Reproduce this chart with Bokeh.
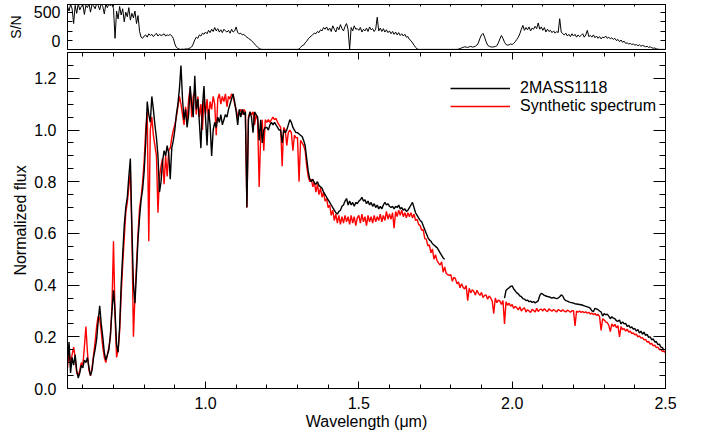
import numpy as np
from bokeh.plotting import figure
from bokeh.layouts import column
from bokeh.models import (LinearAxis, FixedTicker, Legend, LegendItem, Range1d,
                          PrintfTickFormatter, CustomJSTickFormatter)
from bokeh.embed import file_html
from bokeh.resources import INLINE

nan = float("nan")

# Wavelength grid (micron): start and sampling step of the tabulated spectra
WL_START = 0.55
WL_STEP = 0.005

# Observed spectrum 2MASS1118 (normalized flux), sampled every 0.005 micron from 0.55
flux_obs = (
    [0.10, 0.18, 0.06, 0.12, 0.09, 0.13, 0.07, 0.04, 0.06, 0.09]
    + [0.08, 0.11, 0.10, 0.12, 0.08, 0.05, 0.07, 0.12, 0.15, 0.19, 0.26, 0.32, 0.25, 0.20, 0.14, 0.11, 0.13, 0.15, 0.21, 0.30]
    + [0.38, 0.30, 0.17, 0.14, 0.24, 0.40, 0.52, 0.63, 0.70, 0.74, 0.82, 0.89, 0.62, 0.40, 0.33, 0.45, 0.58, 0.66, 0.73, 0.77]
    + [0.84, 0.95, 1.11, 1.06, 1.03, 1.13, 1.08, 1.02, 0.97, 0.90, 0.76, 0.80, 0.88, 0.92, 0.90, 0.94, 0.91, 0.81, 0.93, 0.96]
    + [1.00, 1.06, 1.10, 1.16, 1.25, 1.12, 1.04, 1.08, 1.01, 1.06, 1.17, 1.10, 1.05, 1.21, 1.08, 1.12, 1.03, 0.93, 1.09, 1.17]
    + [1.05, 0.94, 1.08, 1.02, 0.90, 1.00, 1.03, 1.01, 1.05, 1.03, 1.06, 1.02, 1.04, 1.06, 1.05, 1.08, 1.10, 1.12, 1.14, 1.11]
    + [1.07, 1.02, 1.08, 1.05, 1.08, 1.06, 1.07, 0.70, 1.04, 1.07, 1.05, 0.99, 1.07, 1.06, 1.05, 0.96, 1.04, 0.95, 1.00, 1.01]
    + [1.01, 1.00, 1.02, 1.03, 1.02, 1.03, 1.02, 1.01, 1.00, 1.00, 0.95, 1.00, 0.99, 1.00, 1.02, 1.04, 1.03, 1.01, 1.00, 0.99]
    + [0.99, 0.985, 0.98, 0.975, 0.96, 0.94, 0.89, 0.84, 0.81, 0.80, 0.81, 0.795, 0.79, 0.80, 0.785, 0.78, 0.775, 0.76, 0.75, 0.74]
    + [0.73, 0.72, 0.71, 0.70, 0.69, 0.68, 0.675, 0.685, 0.69, 0.705, 0.71, 0.725, 0.735, 0.71, 0.725, 0.71, 0.72, 0.705, 0.72, 0.715]
    + [0.725, 0.73, 0.74, 0.725, 0.73, 0.715, 0.725, 0.71, 0.72, 0.705, 0.715, 0.70, 0.71, 0.695, 0.705, 0.695, 0.71, 0.72, 0.71, 0.715]
    + [0.705, 0.70, 0.705, 0.695, 0.705, 0.70, 0.71, 0.695, 0.70, 0.69, 0.695, 0.685, 0.69, 0.70, 0.71, 0.72, 0.70, 0.68, 0.67, 0.66]
    + [0.65, 0.645, 0.63, 0.615, 0.60, 0.585, 0.575, 0.57, 0.56, 0.555, 0.55, 0.545, 0.535, 0.525, 0.515, 0.505, 0.50, nan, nan, nan]
    + [nan, nan, nan, nan, nan, nan, nan, nan, nan, nan, nan, nan, nan, nan, nan, nan, nan, nan, nan, nan]
    + [nan, nan, nan, nan, nan, nan, nan, nan, nan, nan, nan, nan, nan, nan, nan, 0.35, 0.38, 0.385, 0.39, 0.395]
    + [0.397, 0.385, 0.378, 0.37, 0.366, 0.358, 0.355, 0.348, 0.346, 0.34, 0.342, 0.336, 0.338, 0.333, 0.336, 0.331, 0.335, 0.34, 0.36, 0.368]
    + [0.365, 0.36, 0.358, 0.356, 0.355, 0.352, 0.35, 0.353, 0.35, 0.348, 0.35, 0.355, 0.362, 0.358, 0.345, 0.34, 0.338, 0.335, 0.333, 0.332]
    + [0.33, 0.328, 0.327, 0.326, 0.325, 0.324, 0.322, 0.32, 0.318, 0.316, 0.314, 0.31, 0.30, 0.298, 0.31, 0.308, 0.305, 0.30, 0.296, 0.28]
    + [0.29, 0.285, 0.288, 0.28, 0.27, 0.278, 0.272, 0.27, 0.262, 0.26, 0.265, 0.25, 0.258, 0.25, 0.252, 0.24, 0.245, 0.235, 0.238, 0.23]
    + [0.232, 0.222, 0.228, 0.215, 0.222, 0.21, 0.218, 0.205, 0.21, 0.198, 0.20, 0.188, 0.192, 0.18, 0.182, 0.17, 0.172, 0.16, 0.158, 0.148]
    + [nan]
)

# Synthetic spectrum (normalized flux), same sampling
flux_syn = (
    [0.08, 0.14, 0.10, 0.13, 0.16, 0.12, 0.06, 0.05, 0.07, 0.10]
    + [0.09, 0.16, 0.24, 0.14, 0.07, 0.05, 0.08, 0.13, 0.18, 0.24, 0.28, 0.27, 0.22, 0.16, 0.12, 0.10, 0.13, 0.16, 0.20, 0.32]
    + [0.57, 0.28, 0.12, 0.15, 0.22, 0.36, 0.48, 0.58, 0.68, 0.72, 0.78, 0.84, 0.60, 0.20, 0.36, 0.48, 0.60, 0.70, 0.74, 0.80]
    + [0.88, 1.00, 1.07, 0.57, 1.00, 1.05, 0.98, 0.94, 0.90, 0.68, 0.82, 0.86, 0.89, 0.79, 0.90, 0.82, 0.92, 0.93, 0.97, 1.00]
    + [1.02, 1.05, 1.09, 1.13, 1.10, 1.06, 1.02, 1.09, 1.03, 1.12, 1.16, 1.05, 1.13, 1.15, 1.06, 1.13, 1.05, 1.10, 1.00, 1.12]
    + [1.06, 1.12, 1.04, 1.11, 1.08, 1.13, 1.10, 0.98, 1.12, 1.14, 1.10, 1.13, 1.11, 1.14, 1.09, 1.13, 1.12, 1.14, 1.13, 1.10]
    + [1.08, 1.05, 1.07, 1.08, 1.06, 1.08, 1.07, 0.70, 1.05, 1.07, 1.06, 1.07, 1.02, 1.06, 1.04, 0.78, 0.98, 1.04, 0.92, 1.04]
    + [1.03, 1.04, 1.03, 1.04, 1.05, 1.04, 1.045, 1.03, 1.02, 1.01, 0.86, 1.01, 1.00, 0.94, 0.99, 1.00, 0.99, 0.92, 0.98, 0.97]
    + [0.97, 0.80, 0.96, 0.95, 0.94, 0.92, 0.86, 0.82, 0.80, 0.81, 0.78, 0.80, 0.76, 0.79, 0.75, 0.775, 0.74, 0.76, 0.725, 0.735]
    + [0.70, 0.71, 0.67, 0.69, 0.65, 0.675, 0.64, 0.67, 0.635, 0.665, 0.64, 0.67, 0.645, 0.665, 0.635, 0.67, 0.64, 0.665, 0.63, 0.66]
    + [0.67, 0.64, 0.675, 0.645, 0.665, 0.63, 0.67, 0.645, 0.665, 0.64, 0.67, 0.645, 0.665, 0.65, 0.675, 0.645, 0.67, 0.65, 0.685, 0.655]
    + [0.675, 0.655, 0.68, 0.62, 0.685, 0.665, 0.69, 0.67, 0.69, 0.665, 0.68, 0.66, 0.68, 0.665, 0.68, 0.66, 0.675, 0.65, 0.655, 0.635]
    + [0.63, 0.612, 0.615, 0.58, 0.578, 0.552, 0.556, 0.525, 0.54, 0.50, 0.518, 0.495, 0.485, 0.478, 0.49, 0.45, 0.47, 0.445, 0.44, 0.438]
    + [0.44, 0.415, 0.43, 0.425, 0.405, 0.412, 0.39, 0.405, 0.392, 0.385, 0.398, 0.34, 0.388, 0.37, 0.382, 0.375, 0.362, 0.38, 0.368, 0.36]
    + [0.372, 0.352, 0.36, 0.362, 0.345, 0.358, 0.35, 0.338, 0.29, 0.35, 0.332, 0.342, 0.338, 0.325, 0.34, 0.25, 0.335, 0.322, 0.33, 0.318]
    + [0.325, 0.31, 0.318, 0.312, 0.304, 0.316, 0.30, 0.308, 0.312, 0.296, 0.305, 0.30, 0.294, 0.306, 0.302, 0.296, 0.31, 0.298, 0.305, 0.307]
    + [0.30, 0.309, 0.302, 0.297, 0.308, 0.303, 0.299, 0.306, 0.301, 0.296, 0.305, 0.302, 0.298, 0.305, 0.299, 0.296, 0.303, 0.30, 0.295, 0.301]
    + [0.301, 0.242, 0.30, 0.295, 0.30, 0.294, 0.298, 0.293, 0.297, 0.291, 0.295, 0.288, 0.292, 0.286, 0.29, 0.283, 0.287, 0.278, 0.225, 0.27]
    + [0.265, 0.258, 0.255, 0.245, 0.22, 0.25, 0.24, 0.248, 0.235, 0.243, 0.20, 0.24, 0.228, 0.232, 0.222, 0.23, 0.218, 0.222, 0.212, 0.215]
    + [0.208, 0.21, 0.20, 0.204, 0.195, 0.197, 0.188, 0.19, 0.18, 0.182, 0.172, 0.175, 0.165, 0.168, 0.158, 0.16, 0.15, 0.152, 0.143, 0.145]
    + [0.138]
)

# Signal-to-noise of the observed spectrum, same sampling
snr = (
    [600, 520, 640, 560, 300, 620, 480, 650, 540, 600]
    + [640, 460, 620, 580, 650, 500, 640, 610, 560, 650, 620, 540, 650, 600, 470, 640, 580, 650, 610, 640]
    + [560, 40, 520, 380, 600, 450, 560, 330, 500, 420, 580, 360, 480, 400, 520, 300, 440, 160, 60, 40]
    + [80, 100, 60, 120, 90, 110, 70, 100, 130, 80, 110, 90, 100, 120, 80, 100, 90, 110, 80, 40]
    + [-60, -120, -140, -150, -155, -150, -155, -145, -150, -140, -130, -110, -60, 10, 60, 40, 100, 80, 130, 110]
    + [150, 120, 180, 140, 200, 160, 230, 170, 210, 150, 190, 140, 200, 170, 150, 180, 130, 200, 150, 170]
    + [240, 140, 120, 130, 100, 110, 80, 60, 40, 20, 0, -30, -60, -90, -117, -140, -150, -155, -155, -155]
    + [-155, -155, -155, -155, -155, -155, -155, -155, -155, -155, -155, -155, -155, -155, -155, -155, -155, -155, -155, -155]
    + [-155, -150, -120, -90, -80, -40, -10, 30, 60, 80, 110, 130, 120, 160, 140, 190, 170, 230, 200, 240]
    + [180, 220, 160, 260, 200, 150, 240, 190, 280, 210, 170, 250, 300, 190, -150, 230, 170, 260, 200, 210]
    + [180, 230, 150, 200, 170, 220, 160, 240, 190, 210, 160, 200, 410, 170, 220, 160, 210, 150, 190, 140]
    + [170, 120, 160, 110, 150, 100, 140, 90, 120, 80, 110, 60, 70, 20, 0, -40, -80, -120, -145, -155]
    + [-155, -155, -155, -155, -155, -155, -155, -155, -155, -155, -155, -155, -155, -155, -155, -155, -155, -155, -155, -155]
    + [-155, -155, -155, -155, -155, -150, -140, -130, -120, -110, -115, -120, -110, -100, -115, -110, -100, -80, -40, 40]
    + [100, 127, 60, -20, -80, -100, -110, -115, -110, -105, -90, -40, 30, 90, 40, -30, -70, -80, -75, -60]
    + [-70, -50, -20, 20, 60, 120, 200, 267, 180, 230, 190, 240, 170, 220, 200, 250, 210, 310, 200, 240]
    + [180, 230, 150, 200, 160, 180, 140, 170, 130, 160, 140, 385, 150, 120, 100, 130, 80, 110, 70, 120]
    + [80, 110, 60, 100, 70, 90, 120, 60, 100, 180, 70, 90, 60, 100, 50, 80, 40, 70, 30, 60]
    + [50, 80, 40, 60, 30, 50, 20, 40, 0, 20, -20, 10, -30, -10, -50, -40, -60, -50, -70, -60]
    + [-80, -70, -90, -75, -100, -85, -95, -110, -100, -120, -110, -125, -135, -130, -145, -150, -155, -155, -155, -155]
    + [-155]
)

legend_labels = ["2MASS1118", "Synthetic spectrum"]
x_major_ticks = [1.0, 1.5, 2.0, 2.5]
x_minor_ticks = [0.6, 0.7, 0.8, 0.9, 1.1, 1.2, 1.3, 1.4, 1.6, 1.7, 1.8, 1.9, 2.1, 2.2, 2.3, 2.4]
y_major_ticks = [0.0, 0.2, 0.4, 0.6, 0.8, 1.0, 1.2]
y_minor_ticks = [0.05, 0.1, 0.15, 0.25, 0.3, 0.35, 0.45, 0.5, 0.55, 0.65, 0.7, 0.75,
                 0.85, 0.9, 0.95, 1.05, 1.1, 1.15, 1.25]
sn_major_ticks = [0, 500]
sn_minor_ticks = [166.67, 333.33]

n = len(flux_obs)
wl = np.round(WL_START + WL_STEP * np.arange(n), 4)
f_obs = np.array(flux_obs, dtype=float)
f_syn = np.array(flux_syn, dtype=float)
sn = np.array(snr, dtype=float)

FONT = "Liberation Sans"


def style_axis(ax, labels=True, tick_in=6, minor_in=3, size="16px"):
    ax.axis_line_color = "black"
    ax.major_tick_line_color = "black"
    ax.minor_tick_line_color = "black"
    ax.major_tick_out = 0
    ax.minor_tick_out = 0
    ax.major_tick_in = tick_in
    ax.minor_tick_in = minor_in
    ax.major_label_text_font = FONT
    ax.major_label_text_color = "black"
    ax.axis_label_text_font = FONT
    ax.axis_label_text_font_style = "normal"
    ax.axis_label_text_color = "black"
    if labels:
        ax.major_label_text_font_size = size
    else:
        # mirrored tick marks only: no label text at all
        ax.formatter = CustomJSTickFormatter(code="return ''")
        ax.major_label_text_font_size = "1px"
        ax.major_label_standoff = 0


# ---------------- top panel: S/N ----------------
top = figure(width=702, height=50, x_range=Range1d(0.55, 2.5), y_range=Range1d(-157, 635),
             output_backend="svg", toolbar_location=None,
             x_axis_location=None, y_axis_location="left",
             min_border_left=67, min_border_right=37, min_border_top=4, min_border_bottom=1)
top.grid.visible = False
top.outline_line_color = "black"
top.outline_line_alpha = 1.0
top.background_fill_color = "white"
top.border_fill_color = "white"

yl = top.yaxis[0]
yl.ticker = FixedTicker(ticks=sn_major_ticks, minor_ticks=sn_minor_ticks)
style_axis(yl, labels=True, tick_in=5, minor_in=5, size="16px")
yl.major_label_standoff = 7
yl.axis_label = "S/N"
yl.axis_label_text_font_size = "14px"
yl.axis_label_standoff = 7

yr = LinearAxis(ticker=FixedTicker(ticks=sn_major_ticks, minor_ticks=sn_minor_ticks))
style_axis(yr, labels=False, tick_in=5, minor_in=5)
top.add_layout(yr, "right")

xt = LinearAxis(ticker=FixedTicker(ticks=x_major_ticks, minor_ticks=x_minor_ticks))
style_axis(xt, labels=False, tick_in=3, minor_in=2)
top.add_layout(xt, "above")

top.line(wl, sn, line_color="black", line_width=1.0)

# ---------------- bottom panel: spectra ----------------
bot = figure(width=702, height=382, x_range=Range1d(0.55, 2.5), y_range=Range1d(0.0, 1.3),
             output_backend="svg", toolbar_location=None,
             min_border_left=67, min_border_right=37, min_border_top=2, min_border_bottom=44)
bot.grid.visible = False
bot.outline_line_color = "black"
bot.outline_line_alpha = 1.0
bot.background_fill_color = "white"
bot.border_fill_color = "white"

xb = bot.xaxis[0]
xb.ticker = FixedTicker(ticks=x_major_ticks, minor_ticks=x_minor_ticks)
xb.formatter = PrintfTickFormatter(format="%.1f")
style_axis(xb, labels=True, tick_in=7, minor_in=4)
xb.major_label_standoff = 8
xb.axis_label = "Wavelength (\u03bcm)"
xb.axis_label_text_font_size = "16px"
xb.axis_label_standoff = 1

yb = bot.yaxis[0]
yb.ticker = FixedTicker(ticks=y_major_ticks, minor_ticks=y_minor_ticks)
yb.formatter = PrintfTickFormatter(format="%.1f")
style_axis(yb, labels=True, tick_in=12, minor_in=6)
yb.major_label_standoff = 11
yb.axis_label = "Normalized flux"
yb.axis_label_text_font_size = "16px"
yb.axis_label_standoff = 2

xa = LinearAxis(ticker=FixedTicker(ticks=x_major_ticks, minor_ticks=x_minor_ticks))
style_axis(xa, labels=False, tick_in=7, minor_in=4)
bot.add_layout(xa, "above")

ya = LinearAxis(ticker=FixedTicker(ticks=y_major_ticks, minor_ticks=y_minor_ticks))
style_axis(ya, labels=False, tick_in=12, minor_in=6)
bot.add_layout(ya, "right")

r_syn = bot.line(wl, f_syn, line_color="#ff0000", line_width=1.4)
r_obs = bot.line(wl, f_obs, line_color="black", line_width=1.4)

legend = Legend(items=[LegendItem(label=legend_labels[0], renderers=[r_obs]),
                       LegendItem(label=legend_labels[1], renderers=[r_syn])],
                location=(383, 273))
legend.glyph_width = 60
legend.glyph_height = 16
legend.label_height = 16
legend.label_standoff = 10
legend.spacing = -2
legend.padding = 0
legend.margin = 0
legend.border_line_color = None
legend.background_fill_alpha = 0
legend.label_text_font = FONT
legend.label_text_font_size = "16px"
legend.label_text_color = "black"
bot.add_layout(legend, "center")

layout = column(top, bot, spacing=0)

open("out.html", "w").write(file_html(layout, INLINE))
